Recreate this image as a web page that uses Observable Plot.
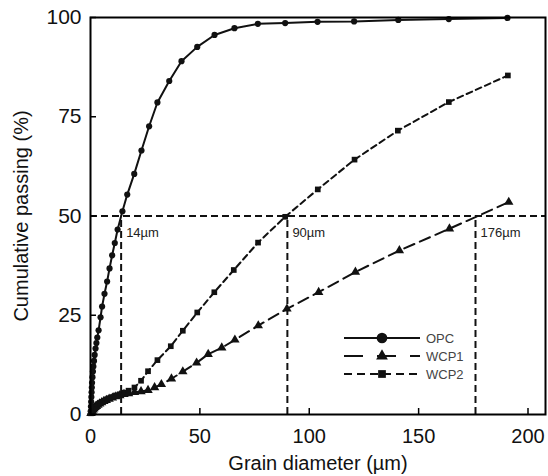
<!DOCTYPE html>
<html><head><meta charset="utf-8">
<script src="https://cdn.jsdelivr.net/npm/d3@7"></script>
<script src="https://cdn.jsdelivr.net/npm/@observablehq/plot@0.6"></script>
<style>
body{margin:0;background:#fff}
#wrap{position:relative;width:548px;height:476px}
#wrap svg{display:block}
</style>
</head><body><div id="wrap"></div>
<script>
// ---- data ----
const seriesNames = ["OPC", "WCP1", "WCP2"];

const opcX = [0.1,0.2,0.3,0.4,0.5,0.6,0.7,0.9,1.1,1.3,1.6,1.9,2.3,2.7,3.1,3.7,4.6,5.3,6.4,7.6,8.7,9.9,11.1,12.4,14.6,16.8,20.0,23.3,26.8,30.6,36.0,41.6,48.8,56.7,65.8,76.5,89.0,103.8,120.5,140.7,163.8,190.6];
const opcY = [0.8,2.0,3.2,4.4,5.6,6.8,8.0,9.4,10.8,12.1,13.5,15.0,16.6,18.0,19.4,21.2,24.5,27.2,30.4,33.5,36.8,40.1,43.2,46.6,51.2,55.4,60.6,66.5,72.6,78.6,84.0,89.0,92.6,95.6,97.3,98.4,98.6,98.9,99.0,99.4,99.6,99.9];

const wcp1X = [0.2,0.5,0.8,1.2,1.6,2.1,2.7,3.4,4.2,5.1,6.1,7.2,8.5,10,11.6,13.4,15.3,17.4,20.1,23.1,26.3,29.3,32.4,37.0,42.2,48.5,53.8,60.0,66.0,76.7,89.8,104.3,121.1,141.2,164.1,191.2];
const wcp1Y = [0.3,0.6,0.9,1.2,1.5,1.8,2.1,2.4,2.7,3.0,3.3,3.6,3.9,4.2,4.5,4.8,5.1,5.3,5.6,5.8,6.1,6.8,7.6,9.0,10.8,13.0,15.2,16.8,18.8,22.4,26.6,30.8,35.9,41.3,46.8,53.5];

const wcp2X = [0.2,0.5,0.8,1.2,1.6,2.1,2.7,3.4,4.2,5.1,6.1,7.2,8.5,10,11.6,13.4,15.3,17.4,20.1,23.1,26.3,30.6,36.7,42.2,48.8,56.6,65.5,76.6,89.0,103.9,120.7,140.5,163.8,190.8];
const wcp2Y = [0.3,0.7,1.0,1.4,1.7,2.0,2.3,2.6,2.9,3.2,3.5,3.8,4.1,4.4,4.8,5.1,5.5,6.0,6.8,8.5,10.9,13.7,17.2,21.1,25.7,30.8,36.4,43.3,49.8,56.7,64.2,71.5,78.7,85.4];

const d50Values = [14, 90, 176];
const d50Labels = ["14\u00b5m", "90\u00b5m", "176\u00b5m"];
const passingLevel = [50];

const xTicks = [0, 50, 100, 150, 200];
const yTicks = [0, 25, 50, 75, 100];
const xLabel = "Grain diameter (\u00b5m)";
const yLabel = "Cumulative passing (%)";

// ---- build tables ----
const toRows = (xs, ys) => xs.map((x, i) => ({x, y: ys[i]}));
const opc = toRows(opcX, opcY);
const wcp1 = toRows(wcp1X, wcp1Y);
const wcp2 = toRows(wcp2X, wcp2Y);
const d50 = d50Values.map((x, i) => ({x, label: d50Labels[i]}));

const font = "'Liberation Sans', Arial, sans-serif";
const W = 548, H = 476, mL = 90, mR = 3, mT = 17, mB = 62;
const innerW = W - mL - mR, innerH = H - mT - mB, tickLen = 6;

const chart = Plot.plot({
  width: W, height: H,
  marginLeft: mL, marginRight: mR, marginTop: mT, marginBottom: mB,
  x: {domain: [0, 208]},
  y: {domain: [0, 100]},
  style: {fontFamily: font, background: "#fff", color: "#111"},
  marks: [
    Plot.ruleY(passingLevel, {stroke: "#111", strokeWidth: 2, strokeDasharray: "7,4"}),
    Plot.ruleX(d50, {x: "x", y1: 0, y2: passingLevel[0], stroke: "#111", strokeWidth: 2, strokeDasharray: "7,4"}),
    Plot.text(d50, {x: "x", y: passingLevel[0], text: "label", dx: 5, dy: 17, textAnchor: "start", fontSize: 13, fill: "#222"}),
    Plot.line(wcp2, {x: "x", y: "y", stroke: "#111", strokeWidth: 2, strokeDasharray: "6,4"}),
    Plot.dot(wcp2, {x: "x", y: "y", symbol: "square", r: 3.2, fill: "#111", stroke: null}),
    Plot.line(wcp1, {x: "x", y: "y", stroke: "#111", strokeWidth: 2, strokeDasharray: "11,6"}),
    Plot.dot(wcp1, {x: "x", y: "y", symbol: "triangle", r: 3.5, fill: "#111", stroke: null}),
    Plot.line(opc, {x: "x", y: "y", stroke: "#111", strokeWidth: 2}),
    Plot.dot(opc, {x: "x", y: "y", r: 3.1, fill: "#111", stroke: null}),
    // inward ticks
    Plot.tickX(xTicks, {x: d => d, stroke: "#000", strokeWidth: 1.5, insetTop: innerH - tickLen}),
    Plot.tickY(yTicks, {y: d => d, stroke: "#000", strokeWidth: 1.5, insetRight: innerW - tickLen}),
    Plot.frame({stroke: "#000", strokeWidth: 2}),
    Plot.axisX({ticks: xTicks, tickSize: 0, tickPadding: 14, fontSize: 20,
      label: xLabel, labelAnchor: "center", labelArrow: "none", labelOffset: 55}),
    Plot.axisY({ticks: yTicks, tickSize: 0, tickPadding: 9, fontSize: 21,
      label: yLabel, labelAnchor: "center", labelArrow: "none", labelOffset: 77})
  ]
});
d3.select(chart).selectAll("g[aria-label='x-axis label'] text, g[aria-label='y-axis label'] text")
  .style("font-size", "20px");
document.getElementById("wrap").appendChild(chart);

// ---- legend (inside plot area, overlay) ----
const leg = d3.select("#wrap").append("svg")
  .attr("width", W).attr("height", H)
  .style("position", "absolute").style("left", 0).style("top", 0)
  .style("pointer-events", "none");
const legY = [338, 356, 374];
const sym = [d3.symbolCircle, d3.symbolTriangle, d3.symbolSquare];
const symSize = [90, 60, 60];
const dashes = [null, "19,14", "8,5"];
seriesNames.forEach((name, i) => {
  const g = leg.append("g");
  g.append("line").attr("x1", 344).attr("x2", 420).attr("y1", legY[i]).attr("y2", legY[i])
    .attr("stroke", "#111").attr("stroke-width", 2)
    .attr("stroke-dasharray", dashes[i]);
  g.append("path").attr("d", d3.symbol(sym[i], symSize[i])())
    .attr("transform", `translate(382,${legY[i]})`).attr("fill", "#111");
  g.append("text").attr("x", 426).attr("y", legY[i]).attr("dy", "0.35em")
    .attr("font-family", font).attr("font-size", 13).attr("fill", "#444").text(name);
});
</script>
</body></html>
